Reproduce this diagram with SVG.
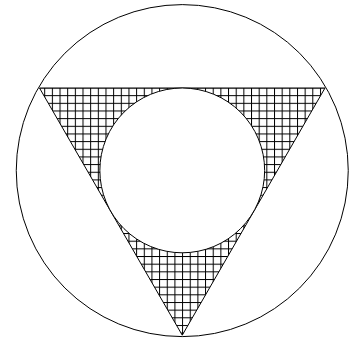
<svg xmlns="http://www.w3.org/2000/svg" width="352" height="340" viewBox="0 0 352 340">
<defs>
<style>
.ln{fill:none;stroke:#000;stroke-width:1}
.grid{stroke:#000;stroke-width:1}
</style>
<pattern id="hatch" patternUnits="userSpaceOnUse" x="44.2" y="87.5" width="7.66" height="7.66">
<line class="grid" x1="0.5" y1="0" x2="0.5" y2="7.66"/>
<line class="grid" x1="0" y1="0.5" x2="7.66" y2="0.5"/>
</pattern>
</defs>
<rect width="352" height="340" fill="#fff"/>
<g id="outer-circle">
<circle class="ln" cx="182.25" cy="170.6" r="166"/>
</g>
<g id="triangle">
<polygon points="39.5,88 325,88 182.25,335.2" fill="url(#hatch)" stroke="#000" stroke-width="1"/>
</g>
<g id="inner-circle">
<circle cx="182.25" cy="170.4" r="82.4" fill="#fff" stroke="#000" stroke-width="1"/>
</g>
</svg>
